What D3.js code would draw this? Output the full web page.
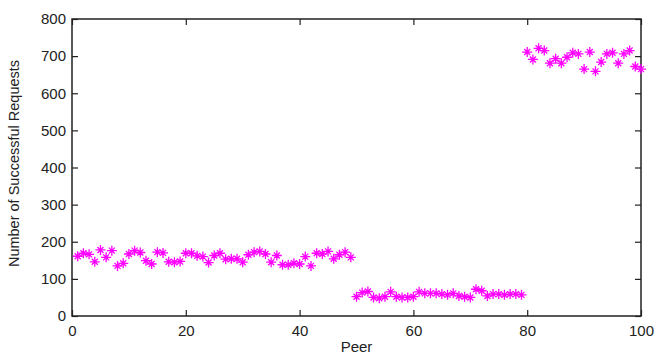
<!DOCTYPE html>
<html>
<head>
<meta charset="utf-8">
<script src="https://cdn.jsdelivr.net/npm/d3@7"></script>
<style>
  body { margin: 0; background: #fff; }
  svg { display: block; font-family: "Liberation Sans", Arial, sans-serif; }
  .tick text { fill: #222; font-size: 15px; }
  .axis-label { fill: #222; }
</style>
</head>
<body>
<div id="chart"></div>
<script>
// peers 1..100
const peers = d3.range(1, 101);

// successful requests per peer
const requests = [
    161, 169, 166, 146, 178, 158, 176, 135, 142, 167,
    176, 171, 149, 140, 172, 170, 146, 145, 147, 169,
    169, 162, 160, 144, 163, 169, 153, 154, 154, 145,
    165, 172, 174, 167, 145, 163, 138, 138, 142, 140,
    160, 135, 169, 167, 174, 154, 165, 172, 158, 52,
    63, 66, 50, 48, 52, 65, 52, 50, 50, 52,
    65, 61, 61, 61, 59, 57, 61, 54, 52, 50,
    72, 68, 54, 59, 59, 57, 59, 59, 57, 711,
    691, 721, 715, 681, 693, 681, 697, 709, 706, 665,
    711, 659, 684, 706, 709, 681, 706, 715, 672, 665
];

const xTicks = [0, 20, 40, 60, 80, 100];
const yTicks = [0, 100, 200, 300, 400, 500, 600, 700, 800];

const width = 656, height = 354;
const margin = { top: 19, right: 15, bottom: 38, left: 72 },
    graphWidth = width - margin.left - margin.right,
    graphHeight = height - margin.top - margin.bottom;

const svg = d3.select("#chart")
    .append("svg")
    .attr("width", width)
    .attr("height", height);

const g = svg.append("g")
    .attr("transform", `translate(${margin.left}, ${margin.top})`);

const xScale = d3.scaleLinear().domain([0, 100]).range([0, graphWidth]);
const yScale = d3.scaleLinear().domain([0, 800]).range([graphHeight, 0]);

// axes with inward ticks, matlab style
const tickLen = 6;
g.append("g")
    .attr("transform", `translate(0, ${graphHeight})`)
    .call(d3.axisBottom(xScale).tickValues(xTicks).tickSizeInner(-tickLen).tickSizeOuter(0).tickPadding(9));
g.append("g")
    .call(d3.axisLeft(yScale).tickValues(yTicks).tickSizeInner(-tickLen).tickSizeOuter(0).tickPadding(6));
g.append("g")
    .call(d3.axisTop(xScale).tickValues(xTicks).tickSizeInner(-tickLen).tickSizeOuter(0).tickFormat(""));
g.append("g")
    .attr("transform", `translate(${graphWidth}, 0)`)
    .call(d3.axisRight(yScale).tickValues(yTicks).tickSizeInner(-tickLen).tickSizeOuter(0).tickFormat(""));

g.selectAll(".domain").remove();
g.selectAll(".tick line").attr("stroke", "#222").attr("stroke-width", 1.2);

g.append("rect")
    .attr("width", graphWidth)
    .attr("height", graphHeight)
    .attr("fill", "none")
    .attr("stroke", "#222")
    .attr("stroke-width", 1.5);

// asterisk markers
const pts = g.append("g")
    .attr("stroke", "#ff00ff")
    .attr("stroke-width", 1.3)
    .attr("fill", "none");

const star = "M-5,0H5M0,-5V5M-3,-3L3,3M-3,3L3,-3";
pts.selectAll("path")
    .data(peers)
    .join("path")
    .attr("transform", (d, i) => `translate(${xScale(d)}, ${yScale(requests[i])})`)
    .attr("d", star);

g.append("text")
    .attr("class", "axis-label")
    .attr("x", graphWidth / 2)
    .attr("y", graphHeight + 36)
    .attr("text-anchor", "middle")
    .attr("font-size", 15)
    .text("Peer");

g.append("text")
    .attr("class", "axis-label")
    .attr("transform", "rotate(-90)")
    .attr("x", -144.5)
    .attr("y", -53)
    .attr("text-anchor", "middle")
    .attr("font-size", 14.5)
    .text("Number of Successful Requests");
</script>
</body>
</html>
